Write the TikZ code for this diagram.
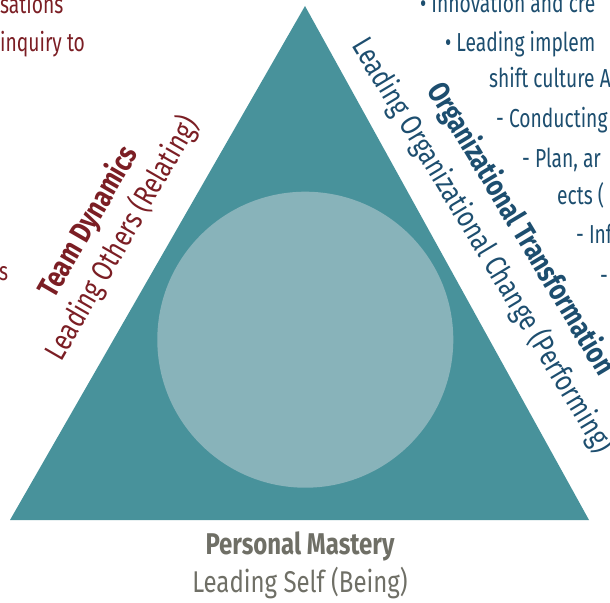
\documentclass[tikz,border=0pt]{standalone}
\usepackage{fontspec}
\setmainfont{Fira Sans}[FakeStretch=0.8]
\newfontfamily\bodyfont{Fira Sans}[FakeStretch=0.74]
\newfontfamily\labelfont{Fira Sans}[FakeStretch=0.8]
\definecolor{triteal}{HTML}{48929B}
\definecolor{coreteal}{HTML}{88B3BA}
\definecolor{wine}{HTML}{7B1E24}
\definecolor{navy}{HTML}{1D4E6F}
\definecolor{stone}{HTML}{6F6F66}
\newcommand{\dotitem}{•\hspace{5pt}}
\begin{document}
\begin{tikzpicture}[x=1pt,y=-1pt,
  body/.style={inner sep=0pt,anchor=base west,font=\bodyfont\fontsize{26}{30}\selectfont},
  label/.style={inner sep=0pt,font=\labelfont\fontsize{30}{36}\selectfont},
  side/.style={label,anchor=base}]
\useasboundingbox (0,0) rectangle (610,602);
% triangle and inner circle
\fill[triteal] (305,6) -- (589,520) -- (10,520) -- cycle;
\fill[coreteal] (305.3,339.7) circle[radius=148pt];

% text running off the left edge
\node[body,text=wine] (l1) at (0,14) {sations};
\node[body,text=wine] (l2) at (0,52) {inquiry to};
\node[body,text=wine] (l3) at (-1,280) {s};

% text running off the right edge
\node[body,text=navy] (r1) at (420,13) {\dotitem Innovation and cre};
\node[body,text=navy] (r2) at (445,52) {\dotitem Leading implem};
\node[body,text=navy] (r3) at (489,88) {shift culture A};
\node[body,text=navy] (r4) at (496,127) {- Conducting};
\node[body,text=navy] (r5) at (522,167) {- Plan, ar};
\node[body,text=navy] (r6) at (557,204) {ects (};
\node[body,text=navy] (r7) at (576,243) {- Inf};
\node[body,text=navy] (r8) at (600,284) {-};

% left side labels
\node[side,text=wine,rotate=60] (td) at (96.5,226.5) {\bfseries Team Dynamics};
\node[side,text=wine,rotate=60] (lo) at (130.5,243) {Leading Others (Relating)};

% right side labels
\node[side,text=navy,rotate=-59] (ot) at (513,233.5) {\bfseries Organizational Transformation};
\node[side,text=navy,rotate=-59] (lc) at (474.5,250) {Leading Organizational Change (Performing)};

% base labels
\node[label,text=stone,anchor=base] (pm) at (300,554) {\bfseries Personal Mastery};
\node[label,text=stone,anchor=base] (ls) at (300,592) {Leading Self (Being)};
\end{tikzpicture}
\end{document}
